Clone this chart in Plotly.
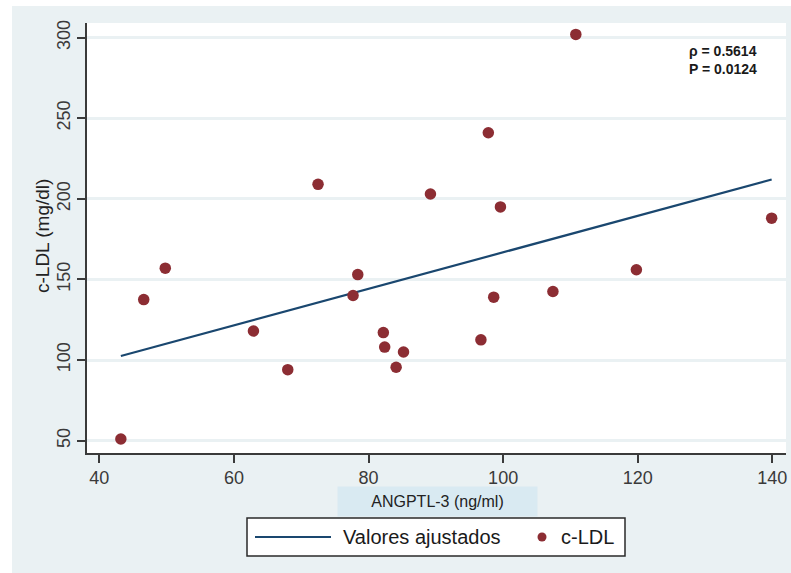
import plotly.graph_objects as go

# ANGPTL-3 (ng/ml) vs c-LDL (mg/dl)
angptl3 = [43.2, 46.6, 49.8, 62.9, 68.0, 72.5, 77.7, 78.4, 82.2, 82.4, 84.1,
           85.2, 89.2, 96.7, 97.8, 98.6, 99.6, 107.4, 110.8, 119.8, 139.9]
cldl = [51, 137.5, 157, 118, 94, 209, 140, 153, 117, 108, 95.5,
        105, 203, 112.5, 241, 139, 195, 142.5, 302, 156, 188]

# fitted values (linear fit) at the ends of the x range
fit_x = [43.2, 139.9]
fit_y = [102.5, 212.0]

x_ticks = [40, 60, 80, 100, 120, 140]
y_ticks = [50, 100, 150, 200, 250, 300]

stats_text = "ρ = 0.5614<br>P = 0.0124"

W, H = 791, 573
ML, MR, MT, MB = 87, 5, 23, 120
PW, PH = W - ML - MR, H - MT - MB

BG = "#eaf1f3"
NAVY = "#1a476f"
CRAN = "#8c2d33"
AXC = "#3a3a3a"
FONT = "Liberation Sans, Arial, sans-serif"


def px(x):
    return (x - ML) / PW


def py(y):
    return (H - MB - y) / PH


fig = go.Figure()
fig.add_trace(go.Scatter(
    x=fit_x, y=fit_y, mode="lines", name="Valores ajustados",
    line=dict(color=NAVY, width=2.2), showlegend=False,
))
fig.add_trace(go.Scatter(
    x=angptl3, y=cldl, mode="markers", name="c-LDL",
    marker=dict(color=CRAN, size=11.5, line=dict(width=0)), showlegend=False,
))

shapes = [
    # white strips along the top and left edges of the page
    dict(type="rect", xref="paper", yref="paper", x0=px(0), x1=px(W), y0=py(6), y1=py(-2),
         fillcolor="white", line=dict(width=0), layer="above"),
    dict(type="rect", xref="paper", yref="paper", x0=px(-2), x1=px(12), y0=py(H + 2), y1=py(-2),
         fillcolor="white", line=dict(width=0), layer="above"),
    # legend box
    dict(type="rect", xref="paper", yref="paper", x0=px(247), x1=px(625), y0=py(556), y1=py(518),
         fillcolor="white", line=dict(color="#2a2a2a", width=1.5), layer="above"),
    dict(type="line", xref="paper", yref="paper", x0=px(255), x1=px(331), y0=py(537), y1=py(537),
         line=dict(color=NAVY, width=2.2), layer="above"),
    dict(type="circle", xref="paper", yref="paper", x0=px(537.5), x1=px(546.5), y0=py(541.5), y1=py(532.5),
         fillcolor=CRAN, line=dict(width=0), layer="above"),
]

annotations = [
    dict(text="c-LDL (mg/dl)", xref="paper", yref="paper", x=px(42), y=py(236),
         textangle=-90, showarrow=False, font=dict(family=FONT, size=19, color="#222"),
         xanchor="center", yanchor="middle"),
    dict(text="ANGPTL-3 (ng/ml)", xref="paper", yref="paper", x=px(437.5), y=py(501.5),
         showarrow=False, font=dict(family=FONT, size=16, color="#222"),
         bgcolor="#d9eaf2", width=197, height=27, xanchor="center", yanchor="middle"),
    dict(text="<b>" + stats_text.replace("<br>", "</b><br><b>") + "</b>",
         xref="paper", yref="paper", x=px(687), y=py(41),
         showarrow=False, align="left", xanchor="left", yanchor="top",
         font=dict(family=FONT, size=14, color="#1a1a1a")),
    dict(text="Valores ajustados", xref="paper", yref="paper", x=px(341), y=py(537),
         showarrow=False, xanchor="left", yanchor="middle",
         font=dict(family=FONT, size=20, color="#1a1a1a")),
    dict(text="c-LDL", xref="paper", yref="paper", x=px(559), y=py(537),
         showarrow=False, xanchor="left", yanchor="middle",
         font=dict(family=FONT, size=20, color="#1a1a1a")),
]

fig.update_layout(
    width=W, height=H,
    margin=dict(l=ML, r=MR, t=MT, b=MB, pad=0),
    paper_bgcolor=BG, plot_bgcolor="white",
    font=dict(family=FONT, color=AXC),
    shapes=shapes, annotations=annotations,
    showlegend=False,
    xaxis=dict(
        range=[38.17, 142.03], tickvals=x_ticks, showgrid=False, zeroline=False,
        showline=True, linecolor=AXC, linewidth=1.5, mirror=False,
        ticks="outside", ticklen=8, tickwidth=1.5, tickcolor=AXC,
        tickfont=dict(size=18, color=AXC, family=FONT),
    ),
    yaxis=dict(
        range=[42.3, 309.1], tickvals=y_ticks, showgrid=True, gridcolor=BG, gridwidth=2.5,
        zeroline=False, showline=True, linecolor=AXC, linewidth=1.5, mirror=False,
        ticks="outside", ticklen=8, tickwidth=1.5, tickcolor=AXC, tickangle=-90,
        tickfont=dict(size=18, color=AXC, family=FONT),
    ),
)

fig.write_html("out.html")
